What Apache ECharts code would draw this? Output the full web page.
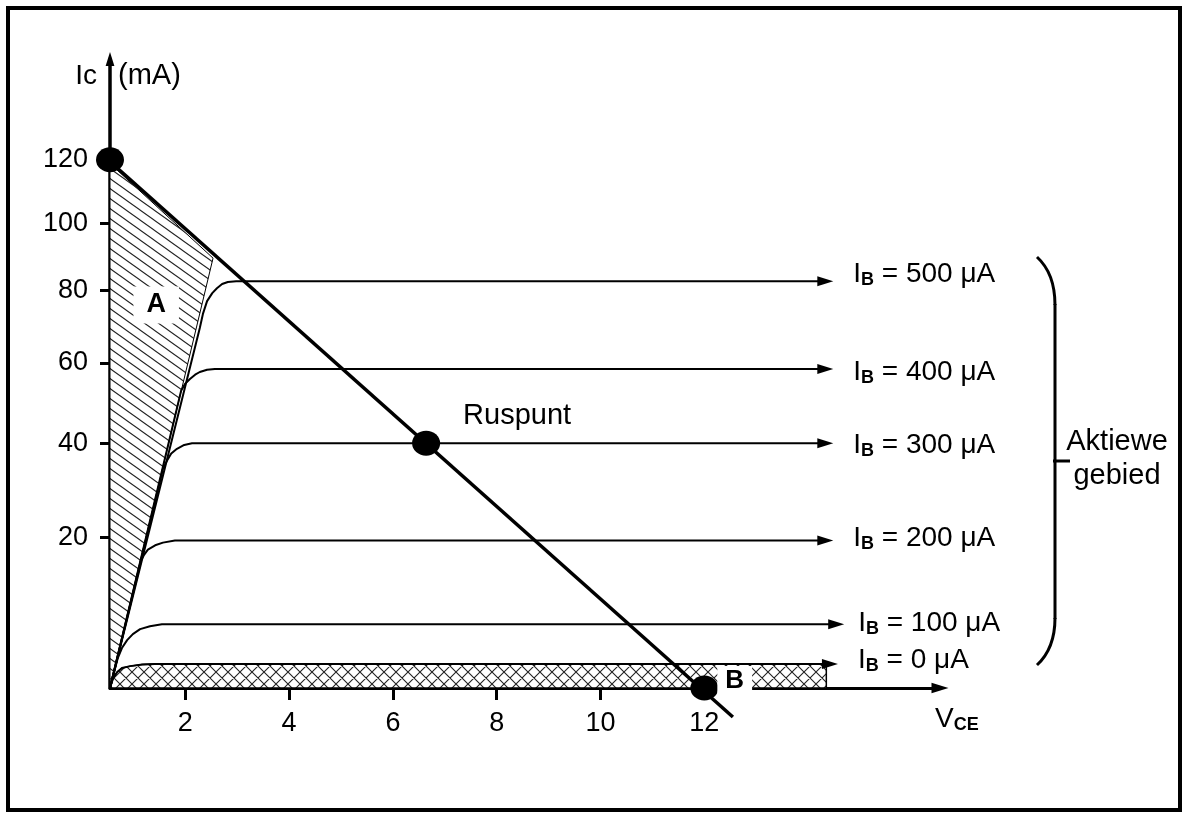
<!DOCTYPE html>
<html>
<head>
<meta charset="utf-8">
<script src="https://cdn.jsdelivr.net/npm/echarts/dist/echarts.min.js"></script>
<style>html,body{margin:0;padding:0;background:#fff}#c{width:1184px;height:814px}</style>
</head>
<body>
<div id="c"></div>
<script>
// ---- data (V_CE in volts, Ic in mA) ----
const xTicks = [2, 4, 6, 8, 10, 12];
const yTicks = [20, 40, 60, 80, 100, 120];
const ibLabels = ['500', '400', '300', '200', '100', '0'];
const curve500 = [[0.55,0],[2.28,69.4],[2.34,73.3],[2.42,76.9],[2.52,79.2],[2.61,80.6],[2.71,81.8],[2.82,82.4],[2.98,82.6],[14.33,82.6]];
const curve400 = [[0.55,0],[1.92,52.8],[2.00,54.6],[2.09,55.8],[2.19,56.9],[2.28,57.6],[2.42,58.2],[2.57,58.4],[14.33,58.4]];
const curve300 = [[0.55,0],[1.53,32.2],[1.57,34.2],[1.65,36.0],[1.73,37.6],[1.84,38.7],[1.98,39.6],[2.13,40],[14.33,40]];
const curve200 = [[0.55,0],[1.15,15.8],[1.21,16.8],[1.28,17.7],[1.42,18.5],[1.57,19.0],[1.80,19.4],[14.33,19.4]];
const curve100 = [[0.55,0],[0.63,0.81],[0.70,1.99],[0.78,3.0],[0.88,3.89],[0.99,4.60],[1.13,5.22],[1.32,5.60],[1.55,5.86],[14.54,5.86]];
const curve0   = [[0.55,0],[0.61,0.41],[0.69,0.81],[0.78,1.11],[0.94,1.27],[1.17,1.40],[1.42,1.44],[14.42,1.44]];
const hatchA = [[0.55,118.8],[2.535,89.4],[0.55,0]];
const cutoffStrip = [[0.55,0],[0.61,0.41],[0.69,0.81],[0.78,1.11],[0.94,1.27],[1.17,1.40],[1.42,1.44],[14.35,1.44],[14.35,0]];
const loadLine = [[0.165,125.2],[12.55,-1.9]];
const qPoints = [[0.55,120],[6.64,40],[12,0]];
const regionA = [[1.44,75.8]];
const xRange = [0.55, 16.54];
const yRange = [0, 154];

// ---- axis scale: the drawing's current axis is compressed (power 0.7) ----
const P = 0.7;
const toS = v => Math.sign(v) * Math.pow(Math.abs(v), P);
const fromS = s => Math.sign(s) * Math.pow(Math.abs(s), 1 / P);
const tr = arr => arr.map(p => [p[0], toS(p[1])]);

const FONT = '"Liberation Sans", Arial, Helvetica, sans-serif';
const ARROW = 'path://M0,0L16,5L0,10Z';
const AXIS_ARROW = 'path://M5,0L10,16L0,16Z';

function makePattern(w, h, dirs, lw, color) {
  const c = document.createElement('canvas');
  c.width = w; c.height = h;
  const ctx = c.getContext('2d');
  ctx.fillStyle = '#fff'; ctx.fillRect(0, 0, w, h);
  ctx.strokeStyle = color; ctx.lineWidth = lw;
  ctx.beginPath();
  dirs.forEach(d => {
    [-w, 0, w].forEach(dx => {
      if (d === '\\') { ctx.moveTo(dx - w, -h); ctx.lineTo(dx + 2 * w, 2 * h); }
      else { ctx.moveTo(dx - w, 2 * h); ctx.lineTo(dx + 2 * w, -h); }
    });
  });
  ctx.stroke();
  return c;
}
const hatchPat = makePattern(14, 10, ['\\'], 1.1, '#222');
const crossPat = makePattern(12, 12, ['\\', '/'], 1.1, '#222');

function polySeries(pts, pattern, lw) {
  return {
    type: 'custom', coordinateSystem: 'cartesian2d', z: 1, silent: true, clip: false,
    data: [[pts[0][0], toS(pts[0][1])]],
    renderItem: (params, api) => ({
      type: 'polygon',
      shape: { points: pts.map(p => api.coord([p[0], toS(p[1])])) },
      style: { fill: { image: pattern, repeat: 'repeat' }, stroke: '#000', lineWidth: lw }
    })
  };
}

const curves = [curve500, curve400, curve300, curve200, curve100, curve0];
const endDist = [28, 28, 28, 28, 22, 28];
const endDy = [-7, 3, 2, -2, -1, -4];
const richIB = {
  i: { fontSize: 28, fontFamily: FONT, color: '#000', lineHeight: 30 },
  b: { fontSize: 18, fontFamily: FONT, fontWeight: 'bold', color: '#000', lineHeight: 17, verticalAlign: 'bottom' }
};

const curveSeries = curves.map((c, i) => ({
  type: 'line', z: 3, silent: true, clip: false,
  symbol: 'circle', symbolSize: 0, showSymbol: true,
  lineStyle: { color: '#000', width: 2 }, itemStyle: { color: '#000', opacity: 1 },
  data: c.map((p, j) => j === c.length - 1
    ? { value: [p[0], toS(p[1])], symbol: ARROW, symbolSize: [16, 10] }
    : [p[0], toS(p[1])]),
  endLabel: {
    show: true, distance: endDist[i], offset: [0, endDy[i]],
    formatter: '{i|I}{b|B}{i| = ' + ibLabels[i] + ' μA}', rich: richIB
  }
}));

const yAxisBase = {
  type: 'value', min: toS(yRange[0]), max: toS(yRange[1]), position: 'left',
  splitLine: { show: false }
};

const option = {
  animation: false,
  backgroundColor: '#fff',
  textStyle: { fontFamily: FONT },
  grid: { left: 110, right: 244, top: 59, bottom: 126, containLabel: false },
  xAxis: [
    {
      type: 'value', min: xRange[0], max: xRange[1], position: 'bottom',
      axisLine: { onZero: false, lineStyle: { color: '#000', width: 3 }, symbol: ['none', AXIS_ARROW], symbolSize: [13, 17] },
      axisTick: { show: true, inside: false, length: 12, lineStyle: { color: '#000', width: 3 }, customValues: xTicks },
      axisLabel: { customValues: xTicks, fontSize: 27, color: '#000', margin: 22, fontFamily: FONT },
      splitLine: { show: false },
      name: '{v|V}{s|CE}', nameLocation: 'end', nameGap: -5,
      nameTextStyle: {
        align: 'left', verticalAlign: 'top', padding: [16, 0, 0, 0],
        rich: {
          v: { fontSize: 28, fontFamily: FONT, color: '#000', lineHeight: 30 },
          s: { fontSize: 18, fontFamily: FONT, fontWeight: 'bold', color: '#000', lineHeight: 17, verticalAlign: 'bottom' }
        }
      }
    },
    {
      type: 'value', min: xRange[0], max: xRange[1], position: 'bottom',
      axisLine: { show: false, onZero: false },
      axisTick: { show: true, inside: true, length: 6, lineStyle: { color: '#000', width: 3 }, customValues: xTicks },
      axisLabel: { show: false }, splitLine: { show: false }
    }
  ],
  yAxis: [
    Object.assign({}, yAxisBase, {
      axisLine: { onZero: false, lineStyle: { color: '#000', width: 3.5 }, symbol: ['none', AXIS_ARROW], symbolSize: [10, 14] },
      axisTick: { show: true, inside: false, length: 10, lineStyle: { color: '#000', width: 3 }, customValues: yTicks.map(toS) },
      axisLabel: { customValues: yTicks.map(toS), fontSize: 27, color: '#000', margin: 22, fontFamily: FONT,
        formatter: v => String(Math.round(fromS(v))) },
      name: 'Ic', nameLocation: 'end', nameGap: -17,
      nameTextStyle: { fontSize: 28, color: '#000', fontFamily: FONT, align: 'right', verticalAlign: 'middle', padding: [0, 13, 0, 0] }
    }),
    Object.assign({}, yAxisBase, {
      axisLine: { show: false, onZero: false },
      axisTick: { show: true, inside: true, length: 12, lineStyle: { color: '#000', width: 3 }, customValues: yTicks.map(toS) },
      axisLabel: { show: false },
      name: '(mA)', nameLocation: 'end', nameGap: -17,
      nameTextStyle: { fontSize: 29, color: '#000', fontFamily: FONT, align: 'left', verticalAlign: 'middle', padding: [0, 0, 0, 8] }
    })
  ],
  series: [
    polySeries(hatchA, hatchPat, 1),
    polySeries(cutoffStrip, crossPat, 1.5),
    ...curveSeries,
    {
      type: 'line', z: 3, silent: true, clip: false, symbol: 'none',
      lineStyle: { color: '#000', width: 3.5 },
      data: tr(loadLine)
    },
    {
      type: 'scatter', z: 5, silent: true, clip: false,
      symbol: 'path://M0,12.5A14,12.5 0 1,0 28,12.5A14,12.5 0 1,0 0,12.5Z', symbolSize: [28, 25],
      itemStyle: { color: '#000', opacity: 1 },
      data: [
        { value: [qPoints[0][0], toS(qPoints[0][1])] },
        { value: [qPoints[1][0], toS(qPoints[1][1])],
          label: { show: true, formatter: 'Ruspunt', position: 'right', distance: 0, offset: [23, -27],
            fontSize: 29, color: '#000', opacity: 1, fontFamily: FONT } },
        { value: [qPoints[2][0], toS(qPoints[2][1])],
          label: { show: true, formatter: 'B', position: 'right', distance: 0, offset: [-1, -7.5],
            fontSize: 26, fontWeight: 'bold', color: '#000', opacity: 1, fontFamily: FONT, lineHeight: 22,
            backgroundColor: '#fff', padding: [7, 8, 0, 8] } }
      ]
    },
    {
      type: 'scatter', z: 5, silent: true, clip: false, symbolSize: 0,
      itemStyle: { color: '#000', opacity: 1 },
      data: tr(regionA),
      label: { show: true, formatter: 'A', position: 'inside', fontSize: 27, fontWeight: 'bold', color: '#000', opacity: 1,
        fontFamily: FONT, lineHeight: 24, backgroundColor: '#fff', padding: [6, 13, 7, 13] }
    }
  ],
  graphic: [
    { type: 'rect', z: 100, silent: true, shape: { x: 8, y: 8, width: 1172, height: 802 },
      style: { fill: null, stroke: '#000', lineWidth: 4 } },
    { type: 'bezierCurve', z: 100, silent: true,
      shape: { x1: 1037, y1: 257, cpx1: 1049, cpy1: 268, cpx2: 1055, cpy2: 284, x2: 1055, y2: 305 },
      style: { fill: null, stroke: '#000', lineWidth: 3 } },
    { type: 'line', z: 100, silent: true, shape: { x1: 1055, y1: 304, x2: 1055, y2: 619 },
      style: { stroke: '#000', lineWidth: 3 } },
    { type: 'bezierCurve', z: 100, silent: true,
      shape: { x1: 1055, y1: 618, cpx1: 1055, cpy1: 640, cpx2: 1049, cpy2: 654, x2: 1037, y2: 665 },
      style: { fill: null, stroke: '#000', lineWidth: 3 } },
    { type: 'line', z: 100, silent: true, shape: { x1: 1053, y1: 461, x2: 1070, y2: 461 },
      style: { stroke: '#000', lineWidth: 3 } },
    { type: 'text', z: 100, silent: true,
      style: { text: 'Aktiewe', x: 1117, y: 442, font: '29px ' + FONT, fill: '#000',
        textAlign: 'center', textVerticalAlign: 'middle', align: 'center', verticalAlign: 'middle' } },
    { type: 'text', z: 100, silent: true,
      style: { text: 'gebied', x: 1117, y: 476, font: '29px ' + FONT, fill: '#000',
        textAlign: 'center', textVerticalAlign: 'middle', align: 'center', verticalAlign: 'middle' } }
  ]
};

const chart = echarts.init(document.getElementById('c'), null, { renderer: 'canvas' });
chart.setOption(option);
</script>
</body>
</html>
